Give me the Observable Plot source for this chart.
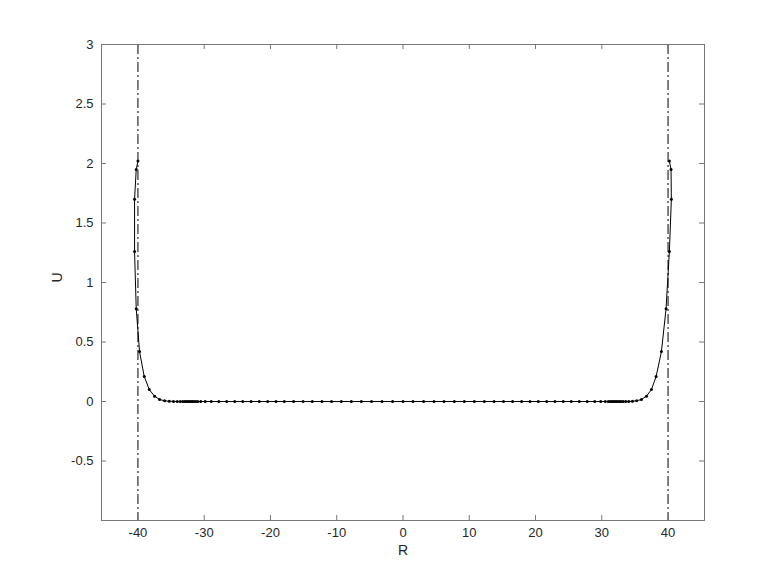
<!DOCTYPE html>
<html>
<head>
<meta charset="utf-8">
<script src="https://cdn.jsdelivr.net/npm/d3@7"></script>
<script src="https://cdn.jsdelivr.net/npm/@observablehq/plot@0.6"></script>
<style>
  html, body { margin: 0; padding: 0; background: #fff; }
</style>
</head>
<body>
<div id="chart"></div>
<script>
// Curve points (R, U), in drawing order: top-left wall -> flat middle -> top-right wall
const R = [
  -40.00, -40.26, -40.51, -40.51, -40.26, -39.76, -39.05, -38.29, -37.49, -36.74,
  -35.98, -35.27, -34.63, -34.07, -33.62, -33.24, -32.94, -32.68, -32.44, -32.21,
  -31.98, -31.76, -31.53, -31.28, -30.97, -30.52, -29.84, -28.94, -27.80, -26.60,
  -25.39, -24.18, -22.93, -21.69, -20.42, -19.17, -17.92, -16.51, -15.09, -13.69,
  -12.23, -10.78, -9.31, -7.80, -6.29, -4.74, -3.17, -1.57, 0.00,
  1.51, 3.11, 4.68, 6.19, 7.74, 9.25, 10.76, 12.27, 13.74, 15.18,
  16.54, 17.90, 19.17, 20.42, 21.69, 22.93, 24.18, 25.39, 26.60, 27.80,
  28.94, 29.84, 30.52, 30.97, 31.28, 31.53, 31.76, 31.98, 32.21, 32.44,
  32.68, 32.94, 33.24, 33.62, 34.07, 34.63, 35.27, 35.98, 36.74, 37.49,
  38.20, 39.00, 39.70, 40.20, 40.50, 40.45, 40.20, 40.00
];
const U = [
  2.02, 1.95, 1.70, 1.26, 0.78, 0.42, 0.21, 0.10, 0.045, 0.017,
  0.006, 0.002, 0.001, 0, 0, 0, 0, 0, 0, 0,
  0, 0, 0, 0, 0, 0, 0, 0, 0, 0,
  0, 0, 0, 0, 0, 0, 0, 0, 0, 0,
  0, 0, 0, 0, 0, 0, 0, 0, 0,
  0, 0, 0, 0, 0, 0, 0, 0, 0, 0,
  0, 0, 0, 0, 0, 0, 0, 0, 0, 0,
  0, 0, 0, 0, 0, 0, 0, 0, 0, 0,
  0, 0, 0, 0, 0.001, 0.002, 0.006, 0.017, 0.045,
  0.10, 0.21, 0.42, 0.78, 1.26, 1.70, 1.95, 2.02
];
const wallR = [-40, 40];
const xTicks = [-40, -30, -20, -10, 0, 10, 20, 30, 40];
const yTicks = [-0.5, 0, 0.5, 1, 1.5, 2, 2.5, 3];

const pts = R.map((r, i) => ({r, u: U[i]}));

const W = 778, H = 584;
const mL = 101, mR = 74, mT = 44, mB = 64;
const innerW = W - mL - mR, innerH = H - mT - mB;
const tick = 5;
const axisColor = "#262626";

const chart = Plot.plot({
  width: W, height: H,
  marginLeft: mL, marginRight: mR, marginTop: mT, marginBottom: mB,
  x: {domain: [-45.5, 45.5], axis: null},
  y: {domain: [-1, 3], axis: null},
  style: {fontFamily: "'Liberation Sans', Arial, Helvetica, sans-serif", fontSize: "13px", color: axisColor, background: "#fff"},
  marks: [
    Plot.ruleX(wallR, {x: d => d, stroke: "#000", strokeWidth: 1, strokeDasharray: "10,3,2,3"}),
    Plot.line(pts, {x: "r", y: "u", stroke: "#000", strokeWidth: 1}),
    Plot.dot(pts, {x: "r", y: "u", r: 1.5, fill: "#000", stroke: "none"}),
    Plot.frame({stroke: "#777", strokeWidth: 1}),
    Plot.ruleX(xTicks, {x: d => d, insetTop: innerH - tick, stroke: "#777"}),
    Plot.ruleX(xTicks, {x: d => d, insetBottom: innerH - tick, stroke: "#777"}),
    Plot.ruleY(yTicks, {y: d => d, insetRight: innerW - tick, stroke: "#777"}),
    Plot.ruleY(yTicks, {y: d => d, insetLeft: innerW - tick, stroke: "#777"}),
    Plot.axisX(xTicks, {anchor: "bottom", tickSize: 0, tickPadding: 7, tickFormat: d => String(d), label: null}),
    Plot.axisY(yTicks, {anchor: "left", tickSize: 0, tickPadding: 8, tickFormat: d => String(d), label: null}),
    Plot.text(["R"], {frameAnchor: "bottom", dy: 34, fontSize: 14, fill: axisColor}),
    Plot.text(["U"], {frameAnchor: "left", dx: -44, rotate: -90, fontSize: 14, fill: axisColor})
  ]
});
document.getElementById("chart").appendChild(chart);
</script>
</body>
</html>
